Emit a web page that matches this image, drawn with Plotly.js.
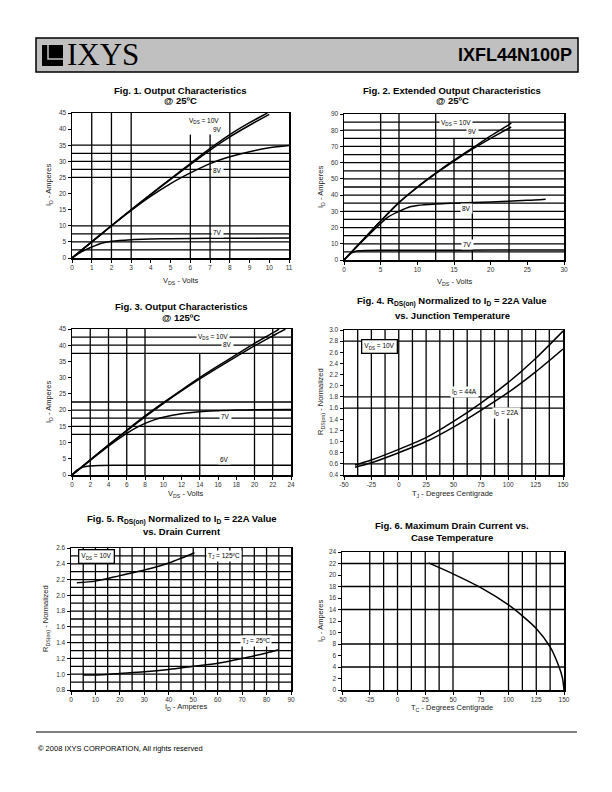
<!DOCTYPE html>
<html>
<head>
<meta charset="utf-8">
<script src="https://cdn.plot.ly/plotly-3.0.1.min.js"></script>
<style>
html, body { margin: 0; padding: 0; background: #fff; }
#chart { width: 612px; height: 792px; }
</style>
</head>
<body>
<div id="chart"></div>
<script>
// Fig. 1 - output characteristics @ 25C (VDS volts, ID amperes)
const f1_10v_vds = [0, 1, 2, 3, 4, 5, 6, 7, 8, 9, 9.9];
const f1_10v_id = [0, 5, 10, 15, 19.8, 24.6, 29.3, 34, 38.3, 42, 45];
const f1_9v_vds = [0, 1, 2, 3, 4, 5, 6, 7, 8, 9, 10];
const f1_9v_id = [0, 5, 10, 14.9, 19.7, 24.4, 29, 33.5, 37.6, 41.2, 44.6];
const f1_8v_vds = [0, 1, 2, 3, 4, 5, 6, 7, 8, 9, 10, 11];
const f1_8v_id = [0, 5, 10, 14.8, 19.2, 23.1, 26.4, 29.3, 31.4, 33, 34.2, 34.9];
const f1_7v_vds = [0, 0.5, 1, 1.5, 2, 3, 4, 5, 7, 9, 11];
const f1_7v_id = [0, 2, 3.4, 4.6, 5.2, 5.7, 5.9, 6.0, 6.1, 6.1, 6.2];

// Fig. 2 - extended output characteristics @ 25C
const f2_10v_vds = [0, 2.5, 5, 7.5, 10, 12.5, 15, 17.5, 20, 22.5, 22.8];
const f2_10v_id = [0, 12, 24, 35.5, 45, 53.5, 61.5, 69, 76.5, 83.5, 84.5];
const f2_9v_vds = [0, 2.5, 5, 7.5, 10, 12.5, 15, 17.5, 20, 22.8];
const f2_9v_id = [0, 12, 24, 35.3, 44.7, 53.2, 61, 68.3, 75, 82];
const f2_8v_vds = [0, 2.5, 5, 6, 7.5, 9, 10, 12.5, 15, 20, 25, 27.5];
const f2_8v_id = [0, 11.5, 22.5, 26.5, 30, 32.8, 33.6, 34.5, 35, 35.8, 36.8, 37.5];
const f2_7v_vds = [0, 0.5, 1, 1.5, 2, 3, 5, 10, 20, 30];
const f2_7v_id = [0, 2.5, 4.2, 5.2, 5.7, 5.9, 6, 6, 6.1, 6.2];

// Fig. 3 - output characteristics @ 125C
const f3_10v_vds = [0, 2, 4, 6, 8, 10, 12, 14, 16, 18, 20, 22, 22.7];
const f3_10v_id = [0, 4.7, 9.3, 13.8, 18.2, 22.3, 26.2, 30, 33.6, 37.1, 40.6, 43.8, 45];
const f3_8v_vds = [0, 2, 4, 6, 8, 10, 12, 14, 16, 18, 20, 22, 23.4];
const f3_8v_id = [0, 4.6, 9.2, 13.6, 17.9, 22, 25.9, 29.6, 33.1, 36.5, 39.8, 42.9, 45];
const f3_7v_vds = [0, 2, 4, 6, 7, 8, 9, 10, 12, 14, 16, 18, 20, 24];
const f3_7v_id = [0, 4.5, 8.9, 12.8, 14.5, 15.9, 17, 17.8, 18.9, 19.5, 19.8, 20, 20.1, 20.2];
const f3_6v_vds = [0, 0.5, 1, 1.5, 2, 3, 5, 10, 24];
const f3_6v_id = [0, 1.4, 2.2, 2.6, 2.8, 2.95, 3, 3, 3];

// Fig. 4 - RDS(on) vs junction temperature
const f4_tj = [-40, -25, 0, 25, 50, 75, 100, 125, 150];
const f4_44a = [0.58, 0.67, 0.86, 1.07, 1.36, 1.69, 2.06, 2.49, 2.98];
const f4_22a = [0.54, 0.62, 0.8, 1.0, 1.26, 1.56, 1.88, 2.25, 2.66];

// Fig. 5 - RDS(on) vs drain current
const f5_125c_id = [2.4, 10, 20, 30, 40, 45, 50.5];
const f5_125c_r = [2.16, 2.18, 2.25, 2.32, 2.41, 2.47, 2.54];
const f5_25c_id = [5, 10, 20, 30, 40, 50, 60, 70, 80, 85];
const f5_25c_r = [0.99, 0.99, 1.01, 1.03, 1.06, 1.1, 1.14, 1.2, 1.27, 1.31];

// Fig. 6 - max drain current vs case temperature
const f6_tc = [28, 50, 75, 100, 112.5, 125, 137.5, 145, 148.5, 150];
const f6_id = [22.1, 20.2, 17.8, 14.8, 12.9, 10.7, 7.5, 4.3, 2.2, 0];

const FONT = 'Arial, "Liberation Sans", sans-serif';
const W = 612, H = 792;
const px = v => v / W;
const py = v => 1 - v / H;

// plot boxes in page pixels: left, top, right, bottom
const boxes = [
    [72, 113, 289, 258],
    [344, 114, 564, 260],
    [72, 329, 291, 475],
    [344, 330, 563, 475],
    [71, 548, 291, 690],
    [342, 552, 564, 690],
];
const scales = [
    {x: [0, 11, 1], y: [0, 45, 5]},
    {x: [0, 30, 5], y: [0, 90, 10]},
    {x: [0, 24, 2], y: [0, 45, 5]},
    {x: [-50, 150, 25], y: [0.4, 3.0, 0.2], yf: 1},
    {x: [0, 90, 10], y: [0.8, 2.6, 0.2], yf: 1},
    {x: [-50, 150, 25], y: [0, 24, 2]},
];

function seq(a, b, s) {
    const out = [];
    for (let v = a; v <= b + 1e-9; v += s) out.push(+v.toFixed(3));
    return out;
}

// grid lines, full span (v/h) and partial segments (vp)
const grids = [
    {v: [1, 2, 3, 8], h: [2.5, 5, 7.5, 10, 25, 27.5, 30, 32.5, 35], vp: [[6, 0, 38.3], [7, 0, 38.3]]},
    {v: [5, 7.5, 12.5, 22.5], h: seq(5, 85, 5), vp: [[15, 0, 75], [17.5, 0, 75]]},
    {v: [2, 4, 6, 8, 20, 22], h: [12.5, 15, 17.5, 20, 22.5, 37.5, 40, 42.5], vp: [[14, 0, 37.5]]},
    {v: seq(-37.5, 137.5, 12.5), h: [0.6, 1.6, 1.8, 2.8]},
    {v: seq(5, 85, 5), h: seq(0.9, 2.5, 0.1)},
    {v: [-25, -12.5, 0, 12.5, 25, 37.5, 50, 100, 112.5, 125, 137.5], h: [4, 8, 14, 18, 22]},
];

const data = [];
function curve(i, x, y) {
    const n = i === 0 ? '' : i + 1;
    data.push({
        x, y, xaxis: 'x' + n, yaxis: 'y' + n, type: 'scatter', mode: 'lines',
        line: {color: '#000', width: 1.5, shape: 'spline', smoothing: 0.8},
        showlegend: false, hoverinfo: 'skip',
    });
}
curve(0, f1_10v_vds, f1_10v_id);
curve(0, f1_9v_vds, f1_9v_id);
curve(0, f1_8v_vds, f1_8v_id);
curve(0, f1_7v_vds, f1_7v_id);
curve(1, f2_10v_vds, f2_10v_id);
curve(1, f2_9v_vds, f2_9v_id);
curve(1, f2_8v_vds, f2_8v_id);
curve(1, f2_7v_vds, f2_7v_id);
curve(2, f3_10v_vds, f3_10v_id);
curve(2, f3_8v_vds, f3_8v_id);
curve(2, f3_7v_vds, f3_7v_id);
curve(2, f3_6v_vds, f3_6v_id);
curve(3, f4_tj, f4_44a);
curve(3, f4_tj, f4_22a);
curve(4, f5_125c_id, f5_125c_r);
curve(4, f5_25c_id, f5_25c_r);
curve(5, f6_tc, f6_id);

const layout = {
    width: W, height: H,
    margin: {l: 0, r: 0, t: 0, b: 0},
    paper_bgcolor: '#fff', plot_bgcolor: 'rgba(0,0,0,0)',
    font: {family: FONT, color: '#000'},
    showlegend: false,
    shapes: [],
    annotations: [],
};

const axisBase = {
    showgrid: false, zeroline: false, showline: true, mirror: true,
    linecolor: '#000', linewidth: 1.5,
    ticks: 'outside', ticklen: 3, tickcolor: '#000', tickwidth: 1,
    tickfont: {size: 6.5, color: '#333', family: FONT},
    fixedrange: true, tickmode: 'array',
};

// tick labels with a plain hyphen for negatives, as printed on the sheet
function ticks(a, b, s, dec) {
    const vals = seq(a, b, s);
    return {tickvals: vals, ticktext: vals.map(v => dec ? v.toFixed(dec) : String(v))};
}

boxes.forEach((b, i) => {
    const n = i === 0 ? '' : i + 1;
    const s = scales[i];
    layout['xaxis' + n] = Object.assign({}, axisBase, ticks(s.x[0], s.x[1], s.x[2], 0), {
        domain: [px(b[0]), px(b[2])], anchor: 'y' + n,
        range: [s.x[0], s.x[1]],
    });
    layout['yaxis' + n] = Object.assign({}, axisBase, ticks(s.y[0], s.y[1], s.y[2], s.yf || 0), {
        domain: [py(b[3]), py(b[1])], anchor: 'x' + n,
        range: [s.y[0], s.y[1]],
    });
    const g = grids[i];
    const xr = 'x' + n, yr = 'y' + n;
    const ln = {color: '#000', width: 1.3};
    (g.v || []).forEach(v => layout.shapes.push({type: 'line', layer: 'below', xref: xr, yref: yr + ' domain', x0: v, x1: v, y0: 0, y1: 1, line: ln}));
    (g.h || []).forEach(v => layout.shapes.push({type: 'line', layer: 'below', xref: xr + ' domain', yref: yr, x0: 0, x1: 1, y0: v, y1: v, line: ln}));
    (g.vp || []).forEach(([v, a, c]) => layout.shapes.push({type: 'line', layer: 'below', xref: xr, yref: yr, x0: v, x1: v, y0: a, y1: c, line: ln}));
});

function pageText(text, x, y, size, opts) {
    layout.annotations.push(Object.assign({
        text, xref: 'paper', yref: 'paper', x: px(x), y: py(y),
        xanchor: 'center', yanchor: 'middle', showarrow: false,
        font: {size, family: FONT, color: '#000'},
    }, opts || {}));
}

// figure titles
const titles = [
    ['Fig. 1. Output Characteristics', '@ 25ºC', 180, 90, 101],
    ['Fig. 2. Extended Output Characteristics', '@ 25ºC', 452, 90, 101],
    ['Fig. 3. Output Characteristics', '@ 125ºC', 181, 306, 317],
    ['Fig. 4. R<sub>DS(on)</sub> Normalized to I<sub>D</sub> = 22A Value', 'vs. Junction Temperature', 452, 302, 315],
    ['Fig. 5. R<sub>DS(on)</sub> Normalized to I<sub>D</sub> = 22A Value', 'vs. Drain Current', 182, 519, 531],
    ['Fig. 6. Maximum Drain Current vs.', 'Case Temperature', 452, 525, 537],
];
titles.forEach(([a, b, x, y1, y2]) => {
    pageText('<b>' + a + '</b>', x, y1, 9.5);
    pageText('<b>' + b + '</b>', x, y2, 9.5);
});

// axis titles
const xTitles = [
    ['V<sub>DS</sub> - Volts', 180, 281],
    ['V<sub>DS</sub> - Volts', 454, 282],
    ['V<sub>DS</sub> - Volts', 186, 494],
    ['T<sub>J</sub> - Degrees Centigrade', 452, 494],
    ['I<sub>D</sub> - Amperes', 186, 707],
    ['T<sub>C</sub> - Degrees Centigrade', 452, 708],
];
xTitles.forEach(([t, x, y]) => pageText(t, x, y, 7.5, {font: {size: 7.5, family: FONT, color: '#222'}}));
const yTitles = [
    ['I<sub>D</sub> - Amperes', 49, 185],
    ['I<sub>D</sub> - Amperes', 321, 187],
    ['I<sub>D</sub> - Amperes', 49, 402],
    ['R<sub>DS(on)</sub> - Normalized', 321, 402],
    ['R<sub>DS(on)</sub> - Normalized', 46, 619],
    ['I<sub>D</sub> - Amperes', 321, 621],
];
yTitles.forEach(([t, x, y]) => pageText(t, x, y, 7.5, {textangle: -90, font: {size: 7.5, family: FONT, color: '#222'}}));

// curve labels inside plots, in data units
const labels = [
    [0, 'V<sub>DS</sub> = 10V', 6.7, 42.5], [0, '9V', 7.4, 39.9], [0, '8V', 7.4, 27.2], [0, '7V', 7.4, 7.9],
    [1, 'V<sub>DS</sub> = 10V', 15.3, 84.3], [1, '9V', 17.5, 79], [1, '8V', 16.7, 32], [1, '7V', 16.9, 9.7],
    [2, 'V<sub>DS</sub> = 10V', 15.4, 42.4], [2, '8V', 17, 40.1], [2, '7V', 16.8, 18], [2, '6V', 16.7, 4.9],
    [3, 'I<sub>D</sub> = 44A', 60, 1.89], [3, 'I<sub>D</sub> = 22A', 98, 1.52],
    [4, 'T<sub>J</sub> = 125ºC', 62.5, 2.5], [4, 'T<sub>J</sub> = 25ºC', 75.5, 1.42],
];
labels.forEach(([i, t, x, y]) => {
    const n = i === 0 ? '' : i + 1;
    layout.annotations.push({
        text: t, xref: 'x' + n, yref: 'y' + n, x, y, showarrow: false,
        bgcolor: '#fff', borderpad: 1, font: {size: 6.5, family: FONT, color: '#000'},
    });
});
// boxed condition notes
[[3, -18, 2.71], [4, 10.6, 2.49]].forEach(([i, x, y]) => {
    const n = i + 1;
    layout.annotations.push({
        text: 'V<sub>DS</sub> = 10V', xref: 'x' + n, yref: 'y' + n, x, y, showarrow: false,
        bgcolor: '#fff', bordercolor: '#000', borderwidth: 1.3, borderpad: 2,
        font: {size: 6.5, family: FONT, color: '#000'},
    });
});

// page header
layout.shapes.push({type: 'rect', xref: 'paper', yref: 'paper', x0: px(36), x1: px(578), y0: py(72), y1: py(38),
    fillcolor: '#c0c0c0', line: {color: '#000', width: 1.5}, layer: 'below'});
layout.shapes.push({type: 'rect', xref: 'paper', yref: 'paper', x0: px(42), x1: px(63), y0: py(66), y1: py(45),
    fillcolor: '#000', line: {width: 0}});
layout.shapes.push({type: 'path', xref: 'paper', yref: 'paper',
    path: `M ${px(48)} ${py(45)} L ${px(48)} ${py(59)} L ${px(63)} ${py(59)}`,
    line: {color: '#c0c0c0', width: 1.5}});
pageText('IXYS', 103, 55, 31, {font: {size: 31, family: '"Liberation Serif", "Times New Roman", serif', color: '#000'}});
pageText('<b>IXFL44N100P</b>', 574, 55, 18, {xanchor: 'right', font: {size: 18, family: FONT, color: '#000'}});

// footer
layout.shapes.push({type: 'line', xref: 'paper', yref: 'paper', x0: px(36), x1: px(577), y0: py(732), y1: py(732),
    line: {color: '#000', width: 1}});
pageText('<b>©</b> 2008 IXYS CORPORATION, All rights reserved', 36, 748, 7.5, {xanchor: 'left'});

Plotly.newPlot('chart', data, layout, {staticPlot: true, displayModeBar: false});
</script>
</body>
</html>
